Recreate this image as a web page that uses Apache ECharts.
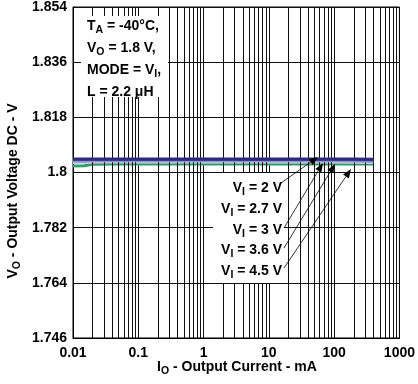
<!DOCTYPE html>
<html><head><meta charset="utf-8">
<script src="https://cdn.jsdelivr.net/npm/echarts@6/dist/echarts.min.js"></script>
<style>html,body{margin:0;padding:0;background:#fff}#c{width:418px;height:384px}</style>
</head><body><div id="c"></div>
<script>
const xValues = [0.01, 0.015, 0.02, 0.05, 0.1, 0.2, 0.5, 1, 2, 5, 10, 20, 50, 100, 200, 400];
const vi2V   = [1.8044,1.8044,1.8044,1.8044,1.8044,1.8044,1.8044,1.8044,1.8044,1.8044,1.8044,1.8044,1.8044,1.8044,1.8044,1.8043];
const vi27V  = [1.8041,1.8041,1.8041,1.8041,1.8041,1.8041,1.8041,1.8041,1.8041,1.8041,1.8041,1.8041,1.8041,1.8041,1.8041,1.8040];
const vi3V   = [1.8035,1.8035,1.8037,1.8037,1.8037,1.8037,1.8037,1.8037,1.8037,1.8037,1.8037,1.8037,1.8037,1.8037,1.8036,1.8035];
const vi36V  = [1.8031,1.8031,1.8033,1.8033,1.8033,1.8033,1.8033,1.8033,1.8033,1.8033,1.8033,1.8033,1.8033,1.8033,1.8032,1.8031];
const vi45V  = [1.8021,1.8022,1.8027,1.8028,1.8028,1.8028,1.8028,1.8028,1.8028,1.8028,1.8028,1.8028,1.8028,1.8028,1.8028,1.8028];
const seriesNames = ['VI = 2 V','VI = 2.7 V','VI = 3 V','VI = 3.6 V','VI = 4.5 V'];
const xTicks = [0.01, 0.1, 1, 10, 100, 1000];
const yTicks = [1.746, 1.764, 1.782, 1.8, 1.818, 1.836, 1.854];
const minorX = [];
for (let d = 0.01; d < 999; d *= 10) { for (let k = 2; k <= 9; k++) minorX.push(+(d*k).toPrecision(3)); }

const FONT = 'Liberation Sans, Arial, sans-serif';
const chart = echarts.init(document.getElementById('c'), null, {renderer:'canvas'});
function fmt(v){ return String(parseFloat(Number(v).toFixed(4))); }
const pairs = a => xValues.map((x,i)=>[x,a[i]]);
const colors = ['#2c2a7c','#4b4ca6','#8f90d0','#c9d6dc','#2f9d6b'];
const widths = [3,2,2,2,3];
const datas = [vi2V, vi27V, vi3V, vi36V, vi45V];
const rich = {
  a:{fontFamily:FONT,fontWeight:'bold',fontSize:14,color:'#000'},
  s:{fontFamily:FONT,fontWeight:'bold',fontSize:10.5,color:'#000',padding:[9,0,0,0]}
};
const series = [{
  type:'line', data:[], z:1, silent:true,
  markLine:{silent:true,symbol:['none','none'],label:{show:false},animation:false,
    lineStyle:{color:'#111',width:1,type:'solid'},
    data: minorX.map(v=>({xAxis:v}))}
}];
for (let i = 4; i >= 0; i--) {
  series.push({type:'line', name:seriesNames[i], data:pairs(datas[i]), showSymbol:false, z:3+(4-i),
    lineStyle:{color:colors[i], width:widths[i]}, itemStyle:{color:colors[i]}, animation:false});
}
const labelTexts = ['{a|V}{s|I}{a| = 2 V}','{a|V}{s|I}{a| = 2.7 V}','{a|V}{s|I}{a| = 3 V}','{a|V}{s|I}{a| = 3.6 V}','{a|V}{s|I}{a| = 4.5 V}'];
const labelY = [178, 199, 220, 240, 261];
const arrows = [[281,183,318,157],[284,228,323,163],[284,248,335,164],[284,268,351,169]];
const graphics = [
  {type:'rect', z:50, shape:{x:81,y:16,width:87,height:81}, style:{fill:'#fff'}},
  {type:'text', z:51, left:87, top:15, style:{rich:rich, lineHeight:22, text:'{a|T}{s|A}{a| = -40°C,}\n{a|V}{s|O}{a| = 1.8 V,}\n{a|MODE = V}{s|I}{a|,}\n{a|L = 2.2 μH}'}},
  {type:'rect', z:50, shape:{x:213,y:173,width:71,height:110}, style:{fill:'#fff'}},
  {type:'text', z:60, x:13, y:191, rotation:Math.PI/2, style:{rich:rich, text:'{a|V}{s|O}{a| - Output Voltage DC - V}', align:'center', verticalAlign:'middle'}},
  {type:'text', z:60, style:{rich:rich, text:'{a|I}{s|O}{a| - Output Current - mA}', align:'center', verticalAlign:'middle', x:237, y:367}}
];
labelTexts.forEach((t,i)=>graphics.push({type:'text', z:51, style:{rich:rich, text:t, align:'right', x:282, y:labelY[i]}}));
arrows.forEach(a=>{
  const [x1,y1,x2,y2]=a; const ang=Math.atan2(y2-y1,x2-x1); const L=9, W=3.5;
  const bx=x2-L*Math.cos(ang), by=y2-L*Math.sin(ang);
  graphics.push({type:'line', z:52, shape:{x1,y1,x2:bx,y2:by}, style:{stroke:'#000',lineWidth:0.8}});
  graphics.push({type:'polygon', z:52, shape:{points:[[x2,y2],[bx-W*Math.sin(ang),by+W*Math.cos(ang)],[bx+W*Math.sin(ang),by-W*Math.cos(ang)]]}, style:{fill:'#000'}});
});

chart.setOption({
  animation:false,
  grid:{left:73,right:13,top:5,bottom:46,show:true,borderColor:'#000',borderWidth:1,backgroundColor:'transparent'},
  xAxis:{type:'log', logBase:10, min:xTicks[0], max:xTicks[xTicks.length-1],
    axisLine:{show:true,lineStyle:{color:'#000'}}, axisTick:{show:false},
    splitLine:{show:true,lineStyle:{color:'#111',width:1}},
    minorTick:{show:false}, minorSplitLine:{show:false},
    axisLabel:{margin:8, fontFamily:FONT, fontWeight:'bold', fontSize:14, color:'#000', formatter:fmt}},
  yAxis:{type:'value', min:yTicks[0], max:yTicks[yTicks.length-1], interval:0.018,
    axisLine:{show:true,lineStyle:{color:'#000'}}, axisTick:{show:false},
    splitLine:{show:true,lineStyle:{color:'#111',width:1}},
    axisLabel:{margin:6, fontFamily:FONT, fontWeight:'bold', fontSize:14, color:'#000', formatter:fmt}},
  series: series,
  graphic: graphics
});
</script></body></html>
